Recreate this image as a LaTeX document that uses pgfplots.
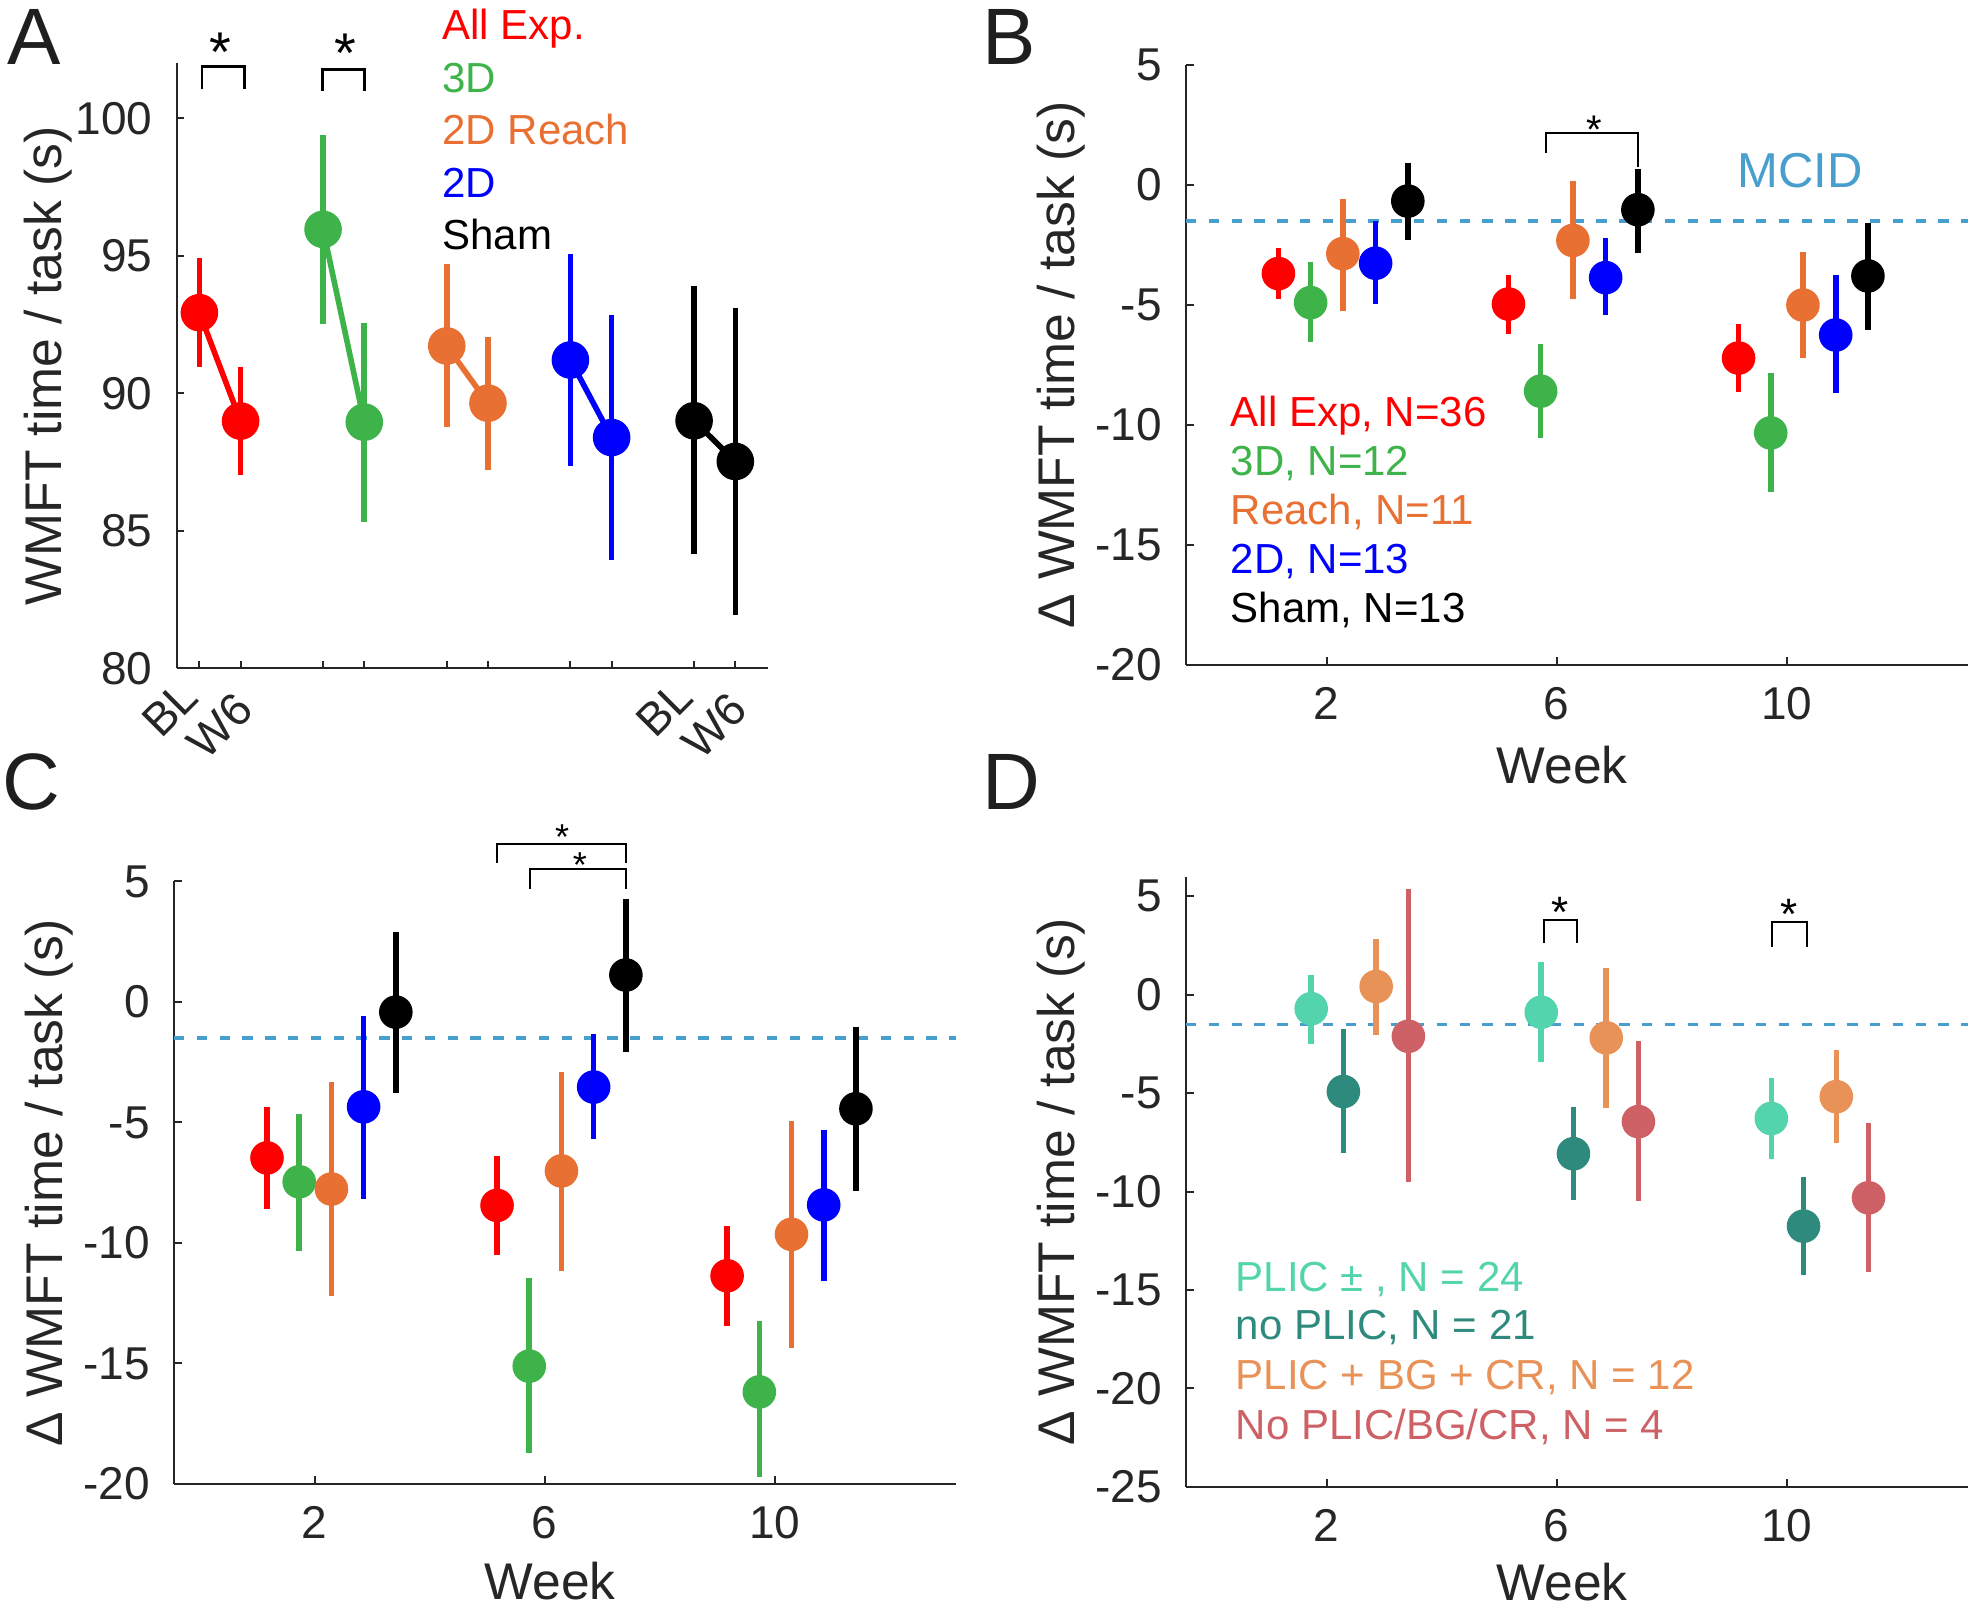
\documentclass[border=0pt]{standalone}
\usepackage{fontspec}
\setmainfont{Liberation Sans}
\usepackage{pgfplots}
\pgfplotsset{compat=1.18}

% group colours
\definecolor{cRed}{RGB}{255,0,0}
\definecolor{cGreen}{RGB}{61,179,73}
\definecolor{cOrange}{RGB}{232,112,50}
\definecolor{cBlue}{RGB}{0,0,255}
\definecolor{cBlack}{RGB}{0,0,0}
\definecolor{cMint}{RGB}{84,212,172}
\definecolor{cTeal}{RGB}{46,138,124}
\definecolor{cPeach}{RGB}{232,146,88}
\definecolor{cRose}{RGB}{205,97,101}
\definecolor{cMCID}{RGB}{72,158,204}
\definecolor{axgray}{RGB}{38,38,38}

% second label of a BL/W6 pair sits a little lower along the slant
\newcommand{\lowlab}[1]{\raisebox{-4.4pt}[8.2pt][0pt]{#1}}

\pgfplotsset{
  panel/.style={
    scale only axis,
    axis x line*=bottom, axis y line*=left,
    axis line style={-, line width=0.5pt, color=axgray},
    tick align=inside,
    major tick length=1.9pt,
    tick style={line width=0.5pt, color=axgray},
    clip=false,
    tick label style={font=\fontsize{11.5}{13}\selectfont, color=axgray},
    label style={font=\fontsize{12.9}{15}\selectfont, color=axgray},
    yticklabel style={inner sep=0pt, xshift=-5.85pt},
  },
  week/.style={
    xmin=-0.447, xmax=13.15,
    xtick={2,6,10}, xticklabels={2,6,10},
    xticklabel style={inner sep=0pt, yshift=-5.4pt},
    xlabel={Week},
    ylabel={Δ WMFT time / task (s)},
    ylabel style={at={(axis description cs:-0.1432,0.5)}, anchor=base},
  },
  grp/.style={only marks, mark=*, mark size=4pt, color=#1,
    mark options={solid, fill=#1, draw=none},
    error bars/y dir=both, error bars/y explicit,
    error bars/error mark=none,
    error bars/error bar style={line width=1.4pt, color=#1, solid}},
  grpl/.style={color=#1, solid, line width=1.4pt, mark=*, mark size=4pt,
    mark options={solid, fill=#1, draw=none},
    error bars/y dir=both, error bars/y explicit,
    error bars/error mark=none,
    error bars/error bar style={line width=1.4pt, color=#1, solid}},
  mcid/.style={color=cMCID, line width=0.85pt, dash pattern=on 2.6pt off 3.1pt},
  table/errtab/.style={x=x, y=y,
    y error plus expr=\thisrow{hi}-\thisrow{y},
    y error minus expr=\thisrow{y}-\thisrow{lo}},
}

\begin{document}
\begin{tikzpicture}
\path[use as bounding box] (0pt,0pt) rectangle (496.5pt,402pt);

%---------------- A: baseline vs week 6 ----------------
\begin{axis}[panel,
  at={(44.18pt,234.93pt)}, anchor=south west,
  width=147.9pt, height=151.25pt,
  xmin=0.45, xmax=14.8, ymin=80, ymax=102,
  xtick={1,2,4,5,7,8,10,11,13,14},
  xticklabels={BL,\lowlab{W6},,,,,,,BL,\lowlab{W6}},
  xticklabel style={xshift=-2.25pt, yshift=-5pt, rotate=45, anchor=east, inner sep=0pt},
  ytick={80,85,90,95,100},
  yticklabels={80,85,90,95,100},
  ylabel={WMFT time / task (s)},
  ylabel style={at={(axis description cs:-0.194,0.5)}, anchor=base},
]
\addplot[grpl=cRed] table[errtab] {
x y lo hi
1 92.93 90.97 94.91
2 88.99 87.01 90.97
};
\addplot[grpl=cGreen] table[errtab] {
x y lo hi
4 95.96 92.52 99.39
5 88.95 85.32 92.57
};
\addplot[grpl=cOrange] table[errtab] {
x y lo hi
7 91.72 88.78 94.70
8 89.64 87.22 92.03
};
\addplot[grpl=cBlue] table[errtab] {
x y lo hi
10 91.21 87.37 95.07
11 88.39 83.93 92.83
};
\addplot[grpl=cBlack] table[errtab] {
x y lo hi
13 89.00 84.14 93.89
14 87.52 81.94 93.11
};
\draw[line width=0.65pt, black] (axis cs:1.06,101.05) |- (axis cs:2.09,101.88) -- (axis cs:2.09,101.05);
\draw[line width=0.65pt, black] (axis cs:3.98,101.0) |- (axis cs:5.0,101.78) -- (axis cs:5.0,101.0);
\node[font=\fontsize{14}{14}\selectfont, inner sep=0pt, yshift=-3pt] at (axis cs:1.50,102.85) {*};
\node[font=\fontsize{14}{14}\selectfont, inner sep=0pt, yshift=-3pt] at (axis cs:4.53,102.79) {*};
\end{axis}

%---------------- B: all groups ----------------
\begin{axis}[panel, week,
  at={(296.5pt,235.75pt)}, anchor=south west,
  width=195.5pt, height=150pt,
  ymin=-20, ymax=5, ytick={-20,-15,...,5},
  yticklabels={-20,-15,-10,-5,0,5},
  xlabel style={at={(axis description cs:0.481,-0.198)}, anchor=base},
]
\addplot[mcid] coordinates {(-0.447,-1.5) (13.15,-1.5)};
\addplot[grp=cRed] table[errtab] {
x y lo hi
1.16 -3.69 -4.75 -2.63
5.16 -4.96 -6.19 -3.75
9.16 -7.21 -8.64 -5.80
};
\addplot[grp=cGreen] table[errtab] {
x y lo hi
1.72 -4.90 -6.55 -3.22
5.72 -8.59 -10.55 -6.62
9.72 -10.33 -12.78 -7.85
};
\addplot[grp=cOrange] table[errtab] {
x y lo hi
2.28 -2.86 -5.24 -0.57
6.28 -2.31 -4.75 0.18
10.28 -5.00 -7.22 -2.78
};
\addplot[grp=cBlue] table[errtab] {
x y lo hi
2.85 -3.26 -4.96 -1.52
6.85 -3.86 -5.41 -2.22
10.85 -6.25 -8.68 -3.75
};
\addplot[grp=cBlack] table[errtab] {
x y lo hi
3.41 -0.67 -2.31 0.92
7.41 -1.03 -2.84 0.65
11.41 -3.79 -6.04 -1.57
};
\draw[line width=0.5pt, black] (axis cs:5.82,1.35) |- (axis cs:7.41,2.15) -- (axis cs:7.41,0.75);
\node[font=\fontsize{10}{10}\selectfont, inner sep=0pt, yshift=-2.1pt] at (axis cs:6.66,2.66) {*};
\end{axis}

%---------------- C ----------------
\begin{axis}[panel, week,
  at={(43.5pt,31pt)}, anchor=south west,
  width=195.5pt, height=150.625pt,
  ymin=-20, ymax=5, ytick={-20,-15,...,5},
  yticklabels={-20,-15,-10,-5,0,5},
  xlabel style={at={(axis description cs:0.481,-0.1925)}, anchor=base},
]
\addplot[mcid] coordinates {(-0.447,-1.5) (13.15,-1.5)};
\addplot[grp=cRed] table[errtab] {
x y lo hi
1.17 -6.47 -8.57 -4.35
5.17 -8.44 -10.48 -6.39
9.17 -11.36 -13.46 -9.28
};
\addplot[grp=cGreen] table[errtab] {
x y lo hi
1.73 -7.46 -10.35 -4.65
5.73 -15.11 -18.71 -11.47
9.73 -16.18 -19.72 -13.25
};
\addplot[grp=cOrange] table[errtab] {
x y lo hi
2.29 -7.76 -12.22 -3.32
6.29 -7.01 -11.15 -2.89
10.29 -9.64 -14.36 -4.93
};
\addplot[grp=cBlue] table[errtab] {
x y lo hi
2.85 -4.35 -8.19 -0.57
6.85 -3.53 -5.68 -1.33
10.85 -8.42 -11.57 -5.31
};
\addplot[grp=cBlack] table[errtab] {
x y lo hi
3.41 -0.42 -3.79 2.90
7.41 1.12 -2.08 4.29
11.41 -4.43 -7.86 -1.02
};
\draw[line width=0.5pt, black] (axis cs:5.17,5.77) |- (axis cs:7.41,6.56) -- (axis cs:7.41,5.77);
\draw[line width=0.5pt, black] (axis cs:5.75,4.69) |- (axis cs:7.41,5.52) -- (axis cs:7.41,4.69);
\node[font=\fontsize{9}{9}\selectfont, inner sep=0pt, yshift=-1.9pt] at (axis cs:6.30,7.15) {*};
\node[font=\fontsize{9}{9}\selectfont, inner sep=0pt, yshift=-1.9pt] at (axis cs:6.61,5.99) {*};
\end{axis}

%---------------- D: lesion groups ----------------
\begin{axis}[panel, week,
  at={(296.5pt,30.33pt)}, anchor=south west,
  width=195.5pt, height=152.5pt,
  ymin=-25, ymax=6, ytick={-25,-20,...,5},
  yticklabels={-25,-20,-15,-10,-5,0,5},
  xlabel style={at={(axis description cs:0.481,-0.187)}, anchor=base},
]
\addplot[mcid] coordinates {(-0.447,-1.5) (13.15,-1.5)};
\addplot[grp=cMint] table[errtab] {
x y lo hi
1.73 -0.71 -2.50 1.00
5.73 -0.89 -3.42 1.64
9.73 -6.29 -8.34 -4.21
};
\addplot[grp=cTeal] table[errtab] {
x y lo hi
2.29 -4.92 -8.03 -1.76
6.29 -8.08 -10.45 -5.71
10.29 -11.76 -14.26 -9.26
};
\addplot[grp=cPeach] table[errtab] {
x y lo hi
2.86 0.42 -2.03 2.84
6.86 -2.19 -5.76 1.38
10.86 -5.18 -7.55 -2.82
};
\addplot[grp=cRose] table[errtab] {
x y lo hi
3.42 -2.11 -9.53 5.39
7.42 -6.45 -10.50 -2.37
11.42 -10.32 -14.08 -6.50
};
\draw[line width=0.5pt, black] (axis cs:5.77,2.63) |- (axis cs:6.35,3.81) -- (axis cs:6.35,2.63);
\draw[line width=0.5pt, black] (axis cs:9.75,2.45) |- (axis cs:10.35,3.68) -- (axis cs:10.35,2.45);
\node[font=\fontsize{11}{11}\selectfont, inner sep=0pt, yshift=-2.3pt] at (axis cs:6.05,4.66) {*};
\node[font=\fontsize{11}{11}\selectfont, inner sep=0pt, yshift=-2.3pt] at (axis cs:10.03,4.55) {*};
\end{axis}

% group key texts
\begin{scope}[every node/.style={anchor=base west, inner sep=0pt, font=\fontsize{10.5}{12}\selectfont}]
\node[text=cRed]    at (110.43pt,392pt)   {All Exp.};
\node[text=cGreen]  at (110.43pt,378.9pt) {3D};
\node[text=cOrange] at (110.43pt,365.75pt){2D Reach};
\node[text=cBlue]   at (110.43pt,352.6pt) {2D};
\node[text=cBlack]  at (110.43pt,339.5pt) {Sham};

\node[text=cRed]    at (307.5pt,295.3pt)  {All Exp, N=36};
\node[text=cGreen]  at (307.5pt,283pt)    {3D, N=12};
\node[text=cOrange] at (307.5pt,270.75pt) {Reach, N=11};
\node[text=cBlue]   at (307.5pt,258.5pt)  {2D, N=13};
\node[text=cBlack]  at (307.5pt,246.3pt)  {Sham, N=13};

\node[text=cMint]   at (308.75pt,79.1pt)  {PLIC ± , N = 24};
\node[text=cTeal]   at (308.75pt,67pt)    {no PLIC, N = 21};
\node[text=cPeach]  at (308.75pt,54.5pt)  {PLIC + BG + CR, N = 12};
\node[text=cRose]   at (308.75pt,42.1pt)  {No PLIC/BG/CR, N = 4};
\end{scope}

\node[anchor=base west, inner sep=0pt, text=cMCID, font=\fontsize{12.25}{14}\selectfont] at (434.25pt,355pt) {MCID};

% panel letters
\begin{scope}[every node/.style={anchor=base west, inner sep=0pt, font=\fontsize{20}{22}\selectfont, text=black!88}]
\node at (1.75pt,385.75pt) {A};
\node at (245.5pt,385.75pt) {B};
\node at (0.5pt,199.5pt) {C};
\node at (245.5pt,199.5pt) {D};
\end{scope}
\end{tikzpicture}
\end{document}
